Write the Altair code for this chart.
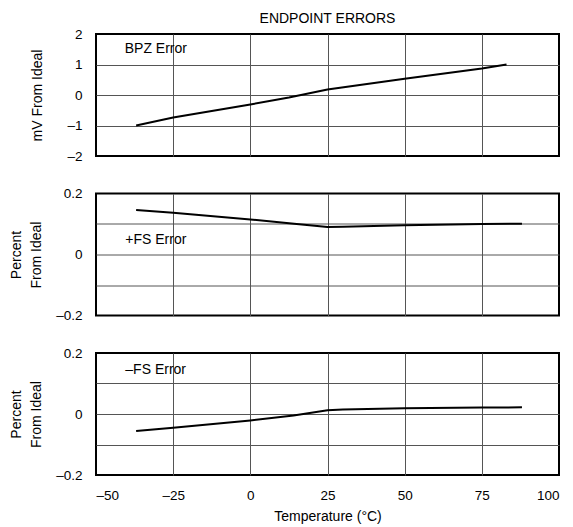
import altair as alt
import pandas as pd

FONT = "Liberation Sans, Arial, Helvetica, sans-serif"

# ---- data ----
bpz_t = [-37, -25, 0, 12.5, 25, 50, 75, 83]
bpz_v = [-1.0, -0.74, -0.31, -0.08, 0.18, 0.53, 0.87, 1.0]

pfs_t = [-37, -25, 0, 15, 25, 30, 50, 75, 88]
pfs_v = [0.146, 0.137, 0.115, 0.100, 0.090, 0.091, 0.096, 0.100, 0.101]

nfs_t = [-37, -25, 0, 14, 25, 30, 50, 75, 88]
nfs_v = [-0.056, -0.045, -0.021, -0.005, 0.012, 0.015, 0.019, 0.021, 0.022]

panel_labels = ["BPZ Error", "+FS Error", "\u2013FS Error"]
label_x = [-40.7, -40.5, -40.5]
label_y = [1.5, 0.047, 0.144]

x_ticks = [-50, -25, 0, 25, 50, 75, 100]
bpz_ticks = [-2, -1, 0, 1, 2]
pct_ticks = [-0.2, -0.1, 0, 0.1, 0.2]

W, H = 463, 122

x_scale = alt.Scale(domain=[-50, 100], nice=False, zero=False)


def neg_label(fmt):
    return ("datum.value < 0 ? '\u2013' + format(abs(datum.value), '%s') : format(datum.value, '%s')"
            % (fmt, fmt))


def x_axis(show):
    common = dict(values=x_ticks, tickCount=len(x_ticks), grid=True, gridColor="#555555", gridWidth=1,
                  gridOpacity={"condition": {"test": "datum.value == -50 || datum.value == 100", "value": 0},
                               "value": 1},
                  ticks=False, domain=False, labelOverlap=False)
    if show:
        return alt.Axis(title="Temperature (\u00b0C)", labels=True, labelExpr=neg_label("d"),
                        labelPadding=13, titlePadding=8, labelFontSize=13.5, titleFontSize=14,
                        labelFont=FONT, titleFont=FONT, labelColor="black", titleColor="black",
                        titleFontWeight="normal", **common)
    return alt.Axis(title=None, labels=False, **common)


def panel(ts, vs, ydom, yticks, ylabel_expr, ytitle, tpad, idx, show_x, title=None):
    df = pd.DataFrame({"t": ts, "v": vs})
    lab = pd.DataFrame({"t": [label_x[idx]], "v": [label_y[idx]], "txt": [panel_labels[idx]]})
    yscale = alt.Scale(domain=ydom, nice=False, zero=False)
    lim = max(abs(ydom[0]), abs(ydom[1]))
    yaxis = alt.Axis(values=yticks, tickCount=len(yticks), grid=True, gridColor="#555555", gridWidth=1,
                     gridOpacity={"condition": {"test": "abs(datum.value) > %f" % (lim * 0.99), "value": 0},
                                  "value": 1},
                     ticks=False, domain=False, labelExpr=ylabel_expr, labelPadding=14,
                     labelOverlap=False,
                     labelFontSize=13.5, labelFont=FONT, labelColor="black",
                     title=ytitle, titleFont=FONT, titleFontSize=14, titleFontWeight="normal",
                     titleColor="black", titlePadding=tpad, titleLineHeight=20)
    xaxis = x_axis(show_x)
    line = alt.Chart(df).mark_line(color="black", strokeWidth=2).encode(
        x=alt.X("t:Q", scale=x_scale, axis=xaxis),
        y=alt.Y("v:Q", scale=yscale, axis=yaxis),
    )
    txt = alt.Chart(lab).mark_text(align="left", baseline="middle", font=FONT, fontSize=14,
                                   color="black").encode(
        x=alt.X("t:Q", scale=x_scale, axis=xaxis),
        y=alt.Y("v:Q", scale=yscale, axis=yaxis),
        text="txt:N",
    )
    props = dict(width=W, height=H)
    if title is not None:
        props["title"] = title
    return alt.layer(line, txt).properties(**props)


pct_expr = ("datum.value > 0.15 ? '0.2' : datum.value < -0.15 ? '\u20130.2' : "
            "abs(datum.value) < 0.05 ? '0' : ''")

top = panel(bpz_t, bpz_v, [-2, 2], bpz_ticks, neg_label("d"), "mV From Ideal", 22, 0, False,
            title=alt.Title("ENDPOINT ERRORS", font=FONT, fontSize=14, fontWeight="normal",
                            color="black", offset=1, frame="group", anchor="middle"))
mid = panel(pfs_t, pfs_v, [-0.2, 0.2], pct_ticks, pct_expr, ["Percent", "From Ideal"], 12, 1, False)
bot = panel(nfs_t, nfs_v, [-0.2, 0.2], pct_ticks, pct_expr, ["Percent", "From Ideal"], 12, 2, True)

chart = alt.vconcat(top, mid, bot, spacing=37.5, bounds="flush").properties(
    padding={"left": 0, "top": 3, "right": 5, "bottom": 5}
).configure(background="white").configure_view(stroke="black", strokeWidth=2)

chart.save("out.html", embed_options={"renderer": "svg", "actions": False})
